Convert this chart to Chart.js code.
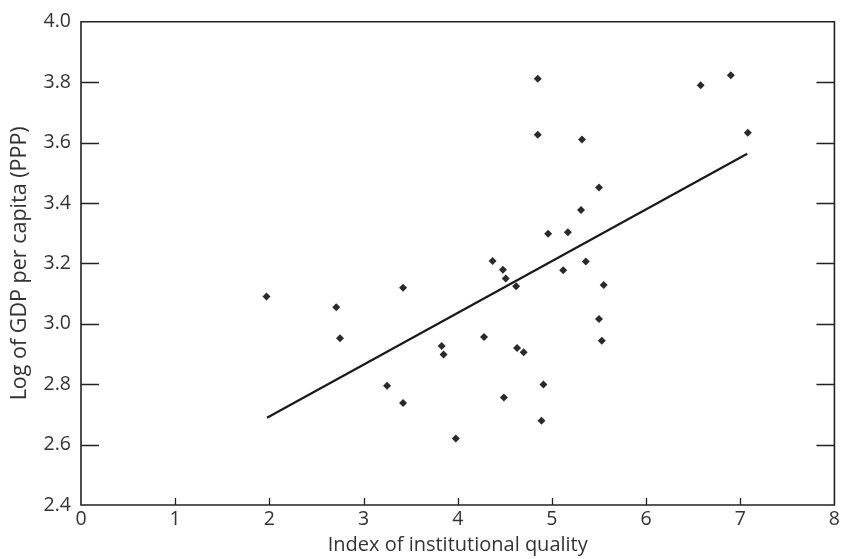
<!DOCTYPE html>
<html>
<head>
<meta charset="utf-8">
<script src="https://cdn.jsdelivr.net/npm/chart.js@4/dist/chart.umd.min.js"></script>
<style>
  html, body { margin: 0; padding: 0; background: #ffffff; }
  #wrap { width: 843px; height: 559px; position: relative; }
</style>
</head>
<body>
<div id="wrap"><canvas id="c" width="843" height="559"></canvas></div>
<script>
// Data
const qualityX = [1.97, 2.71, 2.75, 3.42, 3.25, 3.42, 3.83, 3.85, 3.98, 4.28, 4.85, 4.85, 5.32, 5.50, 5.31, 4.96, 5.17, 4.37, 4.48, 5.36, 5.12, 4.51, 4.62, 5.55, 5.50, 5.53, 4.63, 4.70, 4.91, 4.49, 4.89, 6.58, 6.90, 7.08];
const logGdpY = [3.090, 3.055, 2.952, 3.119, 2.795, 2.738, 2.926, 2.898, 2.620, 2.956, 3.811, 3.626, 3.610, 3.451, 3.377, 3.298, 3.303, 3.208, 3.179, 3.206, 3.177, 3.150, 3.124, 3.128, 3.016, 2.944, 2.920, 2.906, 2.799, 2.756, 2.679, 3.790, 3.823, 3.632];
const trendX = [1.975, 7.074];
const trendY = [2.689, 3.563];
const xTicks = [0, 1, 2, 3, 4, 5, 6, 7, 8];
const yTicks = [2.4, 2.6, 2.8, 3.0, 3.2, 3.4, 3.6, 3.8, 4.0];
const xTitle = 'Index of institutional quality';
const yTitle = 'Log of GDP per capita (PPP)';

const scatterData = qualityX.map((x, i) => ({ x: x, y: logGdpY[i] }));
const trendData = trendX.map((x, i) => ({ x: x, y: trendY[i] }));

const frameColor = '#222222';
const textColor = '#333333';
const fontFamily = '"Open Sans", "DejaVu Sans", sans-serif';

const framePlugin = {
  id: 'frameTicks',
  afterDraw(chart) {
    const { ctx, chartArea: { left, right, top, bottom }, scales: { x, y } } = chart;
    ctx.save();
    ctx.strokeStyle = frameColor;
    ctx.lineWidth = 1.6;
    ctx.lineCap = 'butt';
    ctx.beginPath();
    ctx.rect(left, top, right - left, bottom - top);
    ctx.stroke();
    ctx.lineWidth = 1.3;
    ctx.beginPath();
    yTicks.forEach(v => {
      if (v === yTicks[0] || v === yTicks[yTicks.length - 1]) return;
      const py = Math.round(y.getPixelForValue(v)) + 0.5;
      ctx.moveTo(left, py); ctx.lineTo(left + 18, py);
      ctx.moveTo(right - 18, py); ctx.lineTo(right, py);
    });
    xTicks.forEach(v => {
      if (v === xTicks[0] || v === xTicks[xTicks.length - 1]) return;
      const px = Math.round(x.getPixelForValue(v)) + 0.5;
      ctx.moveTo(px, bottom); ctx.lineTo(px, bottom - 7);
    });
    ctx.stroke();
    ctx.restore();
  }
};

new Chart(document.getElementById('c'), {
  type: 'scatter',
  data: {
    datasets: [
      {
        type: 'line',
        data: trendData,
        borderColor: '#1a1a1a',
        borderWidth: 2.2,
        pointRadius: 0,
        fill: false,
        tension: 0,
        order: 2
      },
      {
        type: 'scatter',
        data: scatterData,
        pointStyle: 'rectRot',
        pointRadius: 4,
        pointBackgroundColor: '#2a2a2a',
        pointBorderColor: '#2a2a2a',
        pointBorderWidth: 0,
        order: 1
      }
    ]
  },
  options: {
    responsive: false,
    animation: false,
    devicePixelRatio: 1,
    layout: { padding: { top: 19, right: 6, left: 0, bottom: 0 } },
    plugins: {
      legend: { display: false },
      tooltip: { enabled: false }
    },
    scales: {
      x: {
        type: 'linear',
        min: 0,
        max: 8,
        afterFit(scale) { scale.height = 54; },
        afterBuildTicks(scale) { scale.ticks = xTicks.map(v => ({ value: v })); },
        grid: { display: false, drawTicks: false },
        border: { display: false },
        ticks: {
          color: textColor,
          font: { family: fontFamily, size: 19.5 },
          padding: 3,
          maxRotation: 0,
          callback: v => String(v)
        },
        title: {
          display: true,
          text: xTitle,
          color: textColor,
          font: { family: fontFamily, size: 20 },
          padding: { top: 0, bottom: 2 }
        }
      },
      y: {
        type: 'linear',
        min: 2.4,
        max: 4.0,
        afterFit(scale) { scale.width = 81; },
        afterBuildTicks(scale) { scale.ticks = yTicks.map(v => ({ value: v })); },
        grid: { display: false, drawTicks: false },
        border: { display: false },
        ticks: {
          color: textColor,
          font: { family: fontFamily, size: 19.5 },
          padding: 10,
          callback: v => Number(v).toFixed(1)
        },
        title: {
          display: true,
          text: yTitle,
          color: textColor,
          font: { family: fontFamily, size: 21.5 },
          padding: { top: 7, bottom: 0 }
        }
      }
    }
  },
  plugins: [framePlugin]
});
</script>
</body>
</html>
